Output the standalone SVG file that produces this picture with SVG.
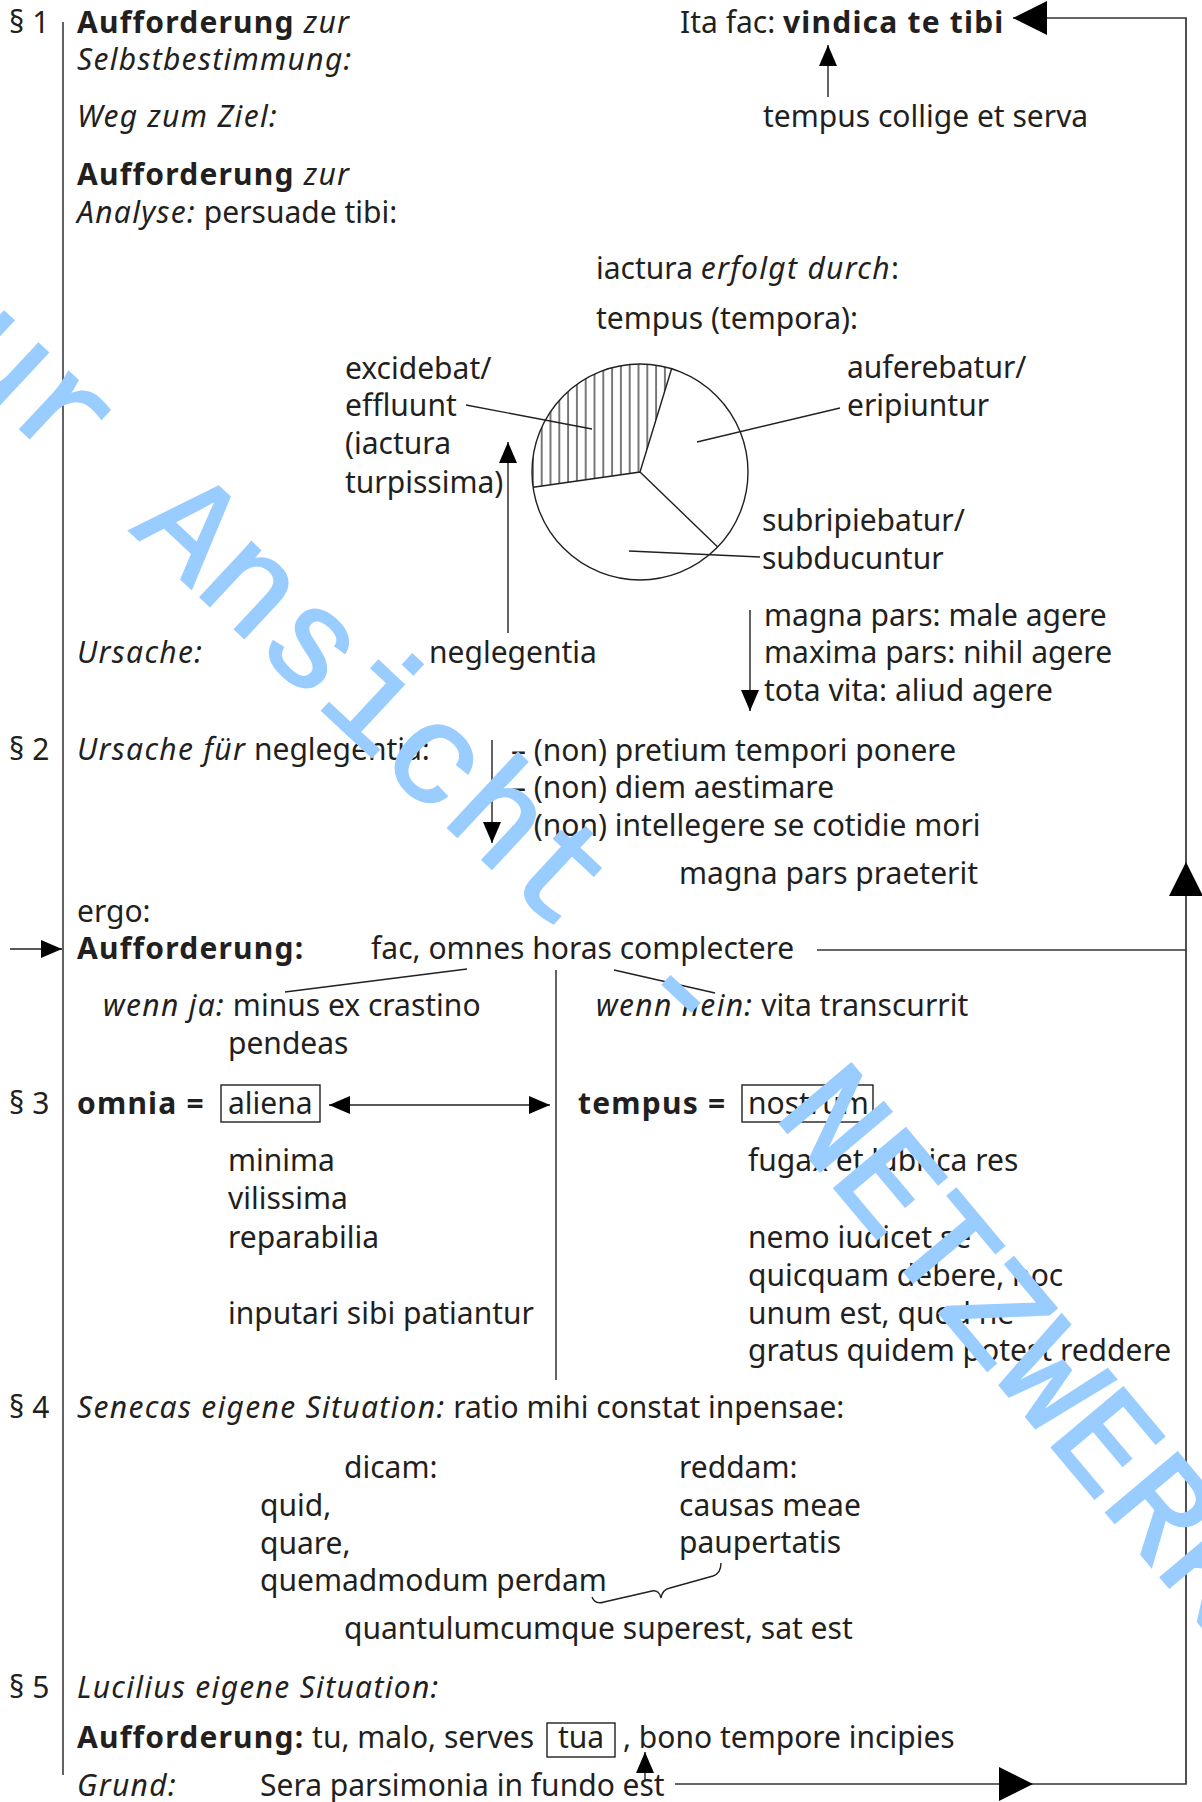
<svg xmlns="http://www.w3.org/2000/svg" width="1202" height="1802" viewBox="0 0 1202 1802">
<defs>
<style>
text { font-family: "Noto Sans", "Open Sans", sans-serif; font-size: 30px; fill: #231f20; }
.b { font-weight: bold; letter-spacing: 1.2px; }
.i { font-style: italic; letter-spacing: 1.3px; }
.ln { stroke: #231f20; stroke-width: 1.4; fill: none; }
.loop { stroke: #333; stroke-width: 1.7; fill: none; }
.box { stroke: #231f20; stroke-width: 1.4; fill: none; }
.wm { font-family: "Liberation Mono", monospace; font-size: 141px; fill: #99ccff; stroke: #99ccff; stroke-width: 2.5; letter-spacing: 0; }
</style>
<marker id="ahBig" markerUnits="userSpaceOnUse" viewBox="0 0 34 34" markerWidth="34" markerHeight="34" refX="34" refY="17" orient="auto">
<path d="M0,0 L34,17 L0,34 Z" fill="#000"/>
</marker>
<marker id="ah" markerUnits="userSpaceOnUse" viewBox="0 0 21 18" markerWidth="21" markerHeight="18" refX="21" refY="9" orient="auto-start-reverse">
<path d="M0,0 L21,9 L0,18 Z" fill="#000"/>
</marker>
<pattern id="hatch" patternUnits="userSpaceOnUse" x="0" y="0" width="8.8" height="20">
<line x1="4.9" y1="0" x2="4.9" y2="20" stroke="#231f20" stroke-width="1.2"/>
</pattern>
</defs>
<rect width="1202" height="1802" fill="#fff"/>

<g id="connectors">
<path class="ln" d="M63,22 V1775"/>
<path class="ln" d="M556,970 V1380"/>
<path class="loop" d="M675,1784 H1033" marker-end="url(#ahBig)"/>
<path class="loop" d="M1033,1784 H1186 V862" marker-end="url(#ahBig)"/>
<path class="loop" d="M1186,862 V18 H1013" marker-end="url(#ahBig)"/>
<path class="loop" d="M817,950 H1186"/>
<path class="ln" d="M828,97 V45" marker-end="url(#ah)"/>
<path class="ln" d="M508,633 V442" marker-end="url(#ah)"/>
<path class="ln" d="M750,610 V711" marker-end="url(#ah)"/>
<path class="ln" d="M492,740 V843" marker-end="url(#ah)"/>
<path class="ln" d="M10,949 H62" marker-end="url(#ah)"/>
<path class="ln" d="M329,1105 H550" marker-start="url(#ah)" marker-end="url(#ah)"/>
<path class="ln" d="M645,1781 V1752" marker-end="url(#ah)"/>
<path class="ln" d="M466,405 L592,429"/>
<path class="ln" d="M697,442 L840,408"/>
<path class="ln" d="M629,551 L760,557"/>
<path class="ln" d="M467,969 L285,992"/>
<path class="ln" d="M614,970 L715,993"/>
<path class="ln" d="M592,1597 C594,1602 598,1604 604,1602 L652,1591 C657,1590 660,1593 661,1598 C662,1592 665,1589 670,1588 L713,1576 C719,1574 721,1569 721,1563"/>
</g>

<g id="pie">
<path d="M640,472 L533.1,487.2 A108,108 0 0 1 671.6,368.7 Z" fill="url(#hatch)"/>
<circle cx="640" cy="472" r="108" class="ln"/>
<path class="ln" d="M671.6,368.7 L640,472 L533.1,487.2 M640,472 L717.7,547"/>
</g>

<g id="s1">
<text x="9" y="33">§ 1</text>
<text x="77" y="33"><tspan class="b">Aufforderung</tspan><tspan class="i"> zur</tspan></text>
<text x="77" y="70" class="i">Selbstbestimmung:</text>
<text x="77" y="127" class="i">Weg zum Ziel:</text>
<text x="77" y="185"><tspan class="b">Aufforderung</tspan><tspan class="i"> zur</tspan></text>
<text x="77" y="223"><tspan class="i">Analyse:</tspan> persuade tibi:</text>
</g>
<g id="vindica">
<text x="680" y="33">Ita fac: <tspan class="b">vindica te tibi</tspan></text>
</g>
<g id="collige">
<text x="763" y="127">tempus collige et serva</text>
</g>
<g id="iactura">
<text x="596" y="279">iactura <tspan class="i">erfolgt durch</tspan>:</text>
<text x="596" y="329">tempus (tempora):</text>
</g>
<g id="excidebat">
<text x="345" y="379">excidebat/</text>
<text x="345" y="416">effluunt</text>
<text x="345" y="454">(iactura</text>
<text x="345" y="493">turpissima)</text>
</g>
<g id="auferebatur">
<text x="847" y="378">auferebatur/</text>
<text x="847" y="416">eripiuntur</text>
</g>
<g id="subripiebatur">
<text x="762" y="531">subripiebatur/</text>
<text x="762" y="569">subducuntur</text>
</g>
<g id="ursache">
<text x="77" y="663" class="i">Ursache:</text>
<text x="429" y="663">neglegentia</text>
</g>
<g id="magna-pars">
<text x="764" y="626">magna pars: male agere</text>
<text x="764" y="663">maxima pars: nihil agere</text>
<text x="764" y="701">tota vita: aliud agere</text>
</g>
<g id="s2">
<text x="9" y="760">§ 2</text>
<text x="77" y="760"><tspan class="i">Ursache für</tspan> neglegentia:</text>
</g>
<g id="non-list">
<text x="511" y="761">– (non) pretium tempori ponere</text>
<text x="511" y="798">– (non) diem aestimare</text>
<text x="511" y="836">– (non) intellegere se cotidie mori</text>
<text x="679" y="884">magna pars praeterit</text>
</g>
<g id="ergo">
<text x="77" y="922">ergo:</text>
<text x="77" y="959" class="b">Aufforderung:</text>
<text x="371" y="959">fac, omnes horas complectere</text>
</g>
<g id="wenn-ja">
<text x="103" y="1016"><tspan class="i">wenn ja:</tspan> minus ex crastino</text>
<text x="228" y="1054">pendeas</text>
</g>
<g id="wenn-nein">
<text x="596" y="1016"><tspan class="i">wenn nein:</tspan> vita transcurrit</text>
</g>
<g id="s3-omnia">
<text x="9" y="1114">§ 3</text>
<text x="77" y="1114" class="b">omnia =</text>
<rect class="box" x="221" y="1085" width="99" height="37"/>
<text x="228" y="1114">aliena</text>
<text x="228" y="1171">minima</text>
<text x="228" y="1209">vilissima</text>
<text x="228" y="1248">reparabilia</text>
<text x="228" y="1324">inputari sibi patiantur</text>
</g>
<g id="s3-tempus">
<text x="578" y="1114" class="b">tempus =</text>
<rect class="box" x="742" y="1085" width="131" height="37"/>
<text x="748" y="1114">nostrum</text>
<text x="748" y="1171">fugax et lubrica res</text>
<text x="748" y="1248">nemo iudicet se</text>
<text x="748" y="1286">quicquam debere, hoc</text>
<text x="748" y="1324">unum est, quod ne</text>
<text x="748" y="1361">gratus quidem potest reddere</text>
</g>
<g id="s4">
<text x="9" y="1418">§ 4</text>
<text x="77" y="1418"><tspan class="i">Senecas eigene Situation:</tspan> ratio mihi constat inpensae:</text>
</g>
<g id="dicam">
<text x="344" y="1478">dicam:</text>
<text x="260" y="1516">quid,</text>
<text x="260" y="1554">quare,</text>
<text x="260" y="1591">quemadmodum perdam</text>
</g>
<g id="reddam">
<text x="679" y="1478">reddam:</text>
<text x="679" y="1516">causas meae</text>
<text x="679" y="1553">paupertatis</text>
</g>
<g id="quantulum">
<text x="344" y="1639">quantulumcumque superest, sat est</text>
</g>
<g id="s5">
<text x="9" y="1698">§ 5</text>
<text x="77" y="1698" class="i">Lucilius eigene Situation:</text>
<text x="77" y="1748"><tspan class="b">Aufforderung:</tspan> tu, malo, serves</text>
<rect class="box" x="547" y="1723" width="68" height="34"/>
<text x="558" y="1748">tua</text>
<text x="623" y="1748">, bono tempore incipies</text>
<text x="77" y="1796" class="i">Grund:</text>
<text x="260" y="1796">Sera parsimonia in fundo est</text>
</g>

<g id="watermark">
<text class="wm" x="-118" y="300" transform="rotate(43 -118 300)">zur Ansicht -</text>
<text class="wm" x="773" y="1115" transform="rotate(50 773 1115)">NETZWERK</text>
</g>
</svg>
